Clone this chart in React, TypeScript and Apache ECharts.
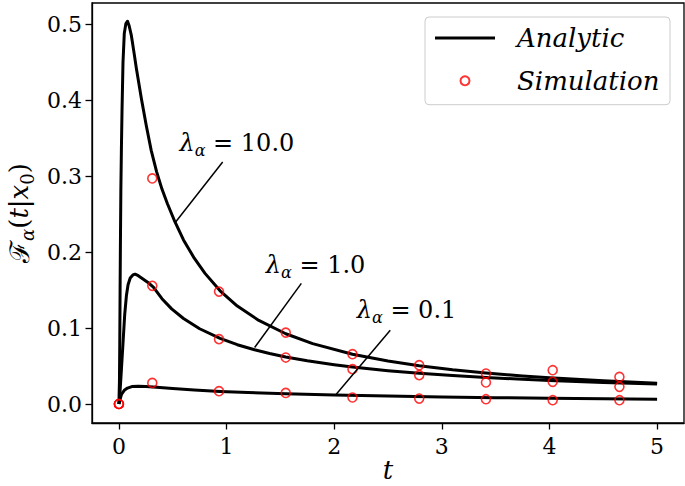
import React, { useEffect, useRef } from "react";
import * as echarts from "echarts";

// ---- Analytic curves (t, F) ----
const curveT10 = [0, 0.005, 0.008, 0.011, 0.014, 0.018, 0.023, 0.029, 0.038, 0.05, 0.065, 0.08, 0.095, 0.116, 0.14, 0.162, 0.209, 0.255, 0.3, 0.35, 0.4, 0.45, 0.52, 0.6, 0.7, 0.8, 0.94, 1.1, 1.3, 1.55, 1.8, 2.17, 2.5, 2.79, 3.1, 3.41, 3.75, 4.0, 4.5, 5.0];
const curveV10 = [0, 0.03, 0.08, 0.15, 0.21, 0.28, 0.334, 0.387, 0.45, 0.488, 0.501, 0.504, 0.498, 0.485, 0.463, 0.442, 0.402, 0.366, 0.334, 0.306, 0.283, 0.264, 0.24, 0.216, 0.192, 0.172, 0.149, 0.129, 0.11, 0.0925, 0.0795, 0.0656, 0.0566, 0.0504, 0.0451, 0.0408, 0.0369, 0.0345, 0.0305, 0.0273];

const curveT1 = [0, 0.006, 0.012, 0.023, 0.038, 0.054, 0.07, 0.085, 0.105, 0.13, 0.15, 0.18, 0.22, 0.27, 0.32, 0.4, 0.49, 0.6, 0.75, 0.94, 1.1, 1.26, 1.4, 1.55, 1.75, 2.0, 2.17, 2.5, 2.79, 3.1, 3.41, 3.75, 4.0, 4.5, 5.0];
const curveV1 = [0, 0.005, 0.02, 0.045, 0.08, 0.118, 0.143, 0.157, 0.166, 0.17, 0.171, 0.169, 0.165, 0.16, 0.154, 0.1387, 0.1253, 0.1126, 0.0991, 0.0864, 0.0781, 0.0714, 0.0665, 0.062, 0.0569, 0.0517, 0.0487, 0.0439, 0.0405, 0.0375, 0.0349, 0.0325, 0.031, 0.0284, 0.0263];

const curveT01 = [0, 0.01, 0.025, 0.05, 0.08, 0.12, 0.18, 0.25, 0.35, 0.5, 0.7, 0.94, 1.2, 1.55, 2.0, 2.5, 3.0, 3.5, 4.0, 4.5, 5.0];
const curveV01 = [0, 0.006, 0.013, 0.018, 0.021, 0.023, 0.0235, 0.023, 0.022, 0.0205, 0.0185, 0.0165, 0.015, 0.0135, 0.012, 0.0105, 0.0093, 0.0083, 0.0075, 0.0068, 0.0063];

// ---- Simulation points ----
const simT = [0, 0.31, 0.93, 1.55, 2.17, 2.79, 3.41, 4.03, 4.65];
const sim10 = [0, 0.297, 0.148, 0.094, 0.0656, 0.0511, 0.0402, 0.0445, 0.0357];
const sim1 = [0, 0.1556, 0.0854, 0.0612, 0.0459, 0.038, 0.0283, 0.0292, 0.0226];
const sim01 = [0, 0.0278, 0.0169, 0.0146, 0.0086, 0.0072, 0.0063, 0.005, 0.005];

// ---- Axis ticks ----
const xTicks = [0, 1, 2, 3, 4, 5];
const yTicks = [0, 0.1, 0.2, 0.3, 0.4, 0.5];

// ---- Annotations (data coordinates) ----
const lambdaValues = ["10.0", "1.0", "0.1"];
const annotTextAt = [[1.096, 0.3436], [1.827, 0.183], [2.672, 0.1236]];
const leaderFrom = [[0.964, 0.3186], [1.695, 0.1588], [2.521, 0.0972]];
const leaderTo = [[0.518, 0.238], [1.261, 0.0744], [2.019, 0.0129]];

const FONT = "DejaVu Serif";

const pairs = (ts: number[], vs: number[]) => ts.map((t, i) => [t, vs[i]]);

export default function App() {
  const ref = useRef<HTMLDivElement>(null);
  useEffect(() => {
    if (!ref.current) return;
    document.body.style.margin = "0";
    const chart = echarts.init(ref.current, null, { renderer: "svg" });

    const curves = [pairs(curveT10, curveV10), pairs(curveT1, curveV1), pairs(curveT01, curveV01)];
    const sims = [sim10, sim1, sim01];

    const annotRich = {
      l: { fontSize: 24, fontStyle: "italic", fontFamily: FONT, color: "#000" },
      s: { fontSize: 16, fontStyle: "italic", fontFamily: FONT, color: "#000", padding: [15, 0, 0, 0] },
      n: { fontSize: 24, fontFamily: FONT, color: "#000" },
    };

    const lineSeries = curves.map((data, i) => ({
      type: "line",
      name: "Analytic",
      data,
      symbol: "none",
      smooth: false,
      lineStyle: { color: "#000", width: 3, join: "round" },
      itemStyle: { color: "#000" },
      z: 2,
      silent: true,
      markPoint: {
        symbol: "circle",
        symbolSize: 0,
        silent: true,
        itemStyle: { color: "rgba(0,0,0,0)" },
        label: {
          show: true,
          position: "inside",
          formatter: `{l|λ}{s|α}{n| = ${lambdaValues[i]}}`,
          rich: annotRich,
        },
        data: [{ coord: annotTextAt[i] }],
      },
      markLine: {
        symbol: ["none", "none"],
        silent: true,
        label: { show: false },
        lineStyle: { color: "#000", width: 1.5, type: "solid" },
        emphasis: { disabled: true },
        data: [[{ coord: leaderFrom[i] }, { coord: leaderTo[i] }]],
      },
    }));

    const scatterSeries = sims.map((vals) => ({
      type: "scatter",
      name: "Simulation",
      data: pairs(simT, vals),
      symbol: "circle",
      symbolSize: 9,
      itemStyle: { color: "rgba(0,0,0,0)", borderColor: "#ff0000", borderWidth: 1.6 },
      z: 3,
      silent: true,
    }));

    const axisCommon = {
      type: "value",
      splitLine: { show: false },
      axisLine: { show: true, onZero: false, lineStyle: { color: "#000", width: 1.3 } },
      nameMoveOverlap: false,
    };

    chart.setOption({
      animation: false,
      backgroundColor: "#fff",
      grid: {
        left: 92, right: 1, top: 3, bottom: 63,
        outerBoundsMode: "none",
        containLabel: false,
        show: true, borderColor: "#000", borderWidth: 1.3, backgroundColor: "transparent",
      },
      legend: {
        data: [
          { name: "Analytic", icon: "path://M0,0L60,0L60,3L0,3Z", itemStyle: { color: "#000", borderWidth: 0 } },
          { name: "Simulation" },
        ],
        orient: "vertical",
        left: 425,
        top: 17,
        padding: [4, 10, 7, 10],
        itemWidth: 60,
        itemHeight: 9,
        itemGap: 8.7,
        borderColor: "#cccccc",
        borderWidth: 1,
        borderRadius: 4,
        backgroundColor: "rgba(255,255,255,0.8)",
        selectedMode: false,
        textStyle: {
          fontFamily: FONT,
          fontStyle: "italic",
          fontSize: 26,
          lineHeight: 34,
          color: "#000",
          width: 143,
          padding: [0, 0, 0, 17],
        },
      },
      xAxis: {
        ...axisCommon,
        min: -0.25,
        max: 5.25,
        axisTick: { show: true, length: 6.5, lineStyle: { color: "#000", width: 1.3 }, customValues: xTicks },
        axisLabel: {
          customValues: xTicks,
          fontSize: 22,
          fontFamily: FONT,
          color: "#000",
          margin: 12,
          formatter: (v: number) => String(Math.round(v)),
        },
        name: "t",
        nameLocation: "middle",
        nameGap: 36,
        nameTextStyle: { fontSize: 26, lineHeight: 22, fontStyle: "italic", fontFamily: FONT, color: "#000" },
      },
      yAxis: {
        ...axisCommon,
        min: -0.025,
        max: 0.528,
        axisTick: { show: true, length: 6.5, lineStyle: { color: "#000", width: 1.3 }, customValues: yTicks },
        axisLabel: {
          customValues: yTicks,
          fontSize: 22,
          fontFamily: FONT,
          color: "#000",
          margin: 10,
          formatter: (v: number) => v.toFixed(1),
        },
        name: "{F|ℱ}{s|α}{n|(}{i|t}{n||}{i|x}{s0|0}{n|)}",
        nameLocation: "middle",
        nameRotate: 90,
        nameGap: 56,
        nameTextStyle: {
          fontSize: 26,
          fontFamily: FONT,
          color: "#000",
          rich: {
            F: { fontSize: 27, fontFamily: FONT, color: "#000" },
            s: { fontSize: 18, fontStyle: "italic", fontFamily: FONT, color: "#000", padding: [16, 0, 0, 0] },
            s0: { fontSize: 18, fontFamily: FONT, color: "#000", padding: [16, 0, 0, 0] },
            n: { fontSize: 26, fontFamily: FONT, color: "#000" },
            i: { fontSize: 26, fontStyle: "italic", fontFamily: FONT, color: "#000" },
          },
        },
      },
      series: [...lineSeries, ...scatterSeries],
    });

    return () => chart.dispose();
  }, []);
  return <div ref={ref} style={{ position: "fixed", left: 0, top: 0, width: 685, height: 486, background: "#fff" }} />;
}
